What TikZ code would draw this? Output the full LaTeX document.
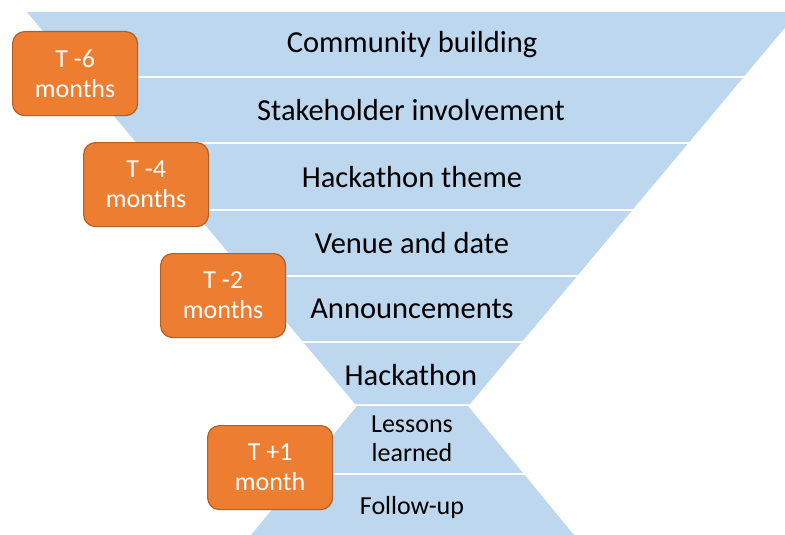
\documentclass[tikz,border=0pt]{standalone}
\usepackage{fontspec}
\setmainfont{Carlito}
\definecolor{funnelblue}{HTML}{BDD7EE}
\definecolor{boxorange}{HTML}{ED7D31}
\definecolor{boxedge}{HTML}{B25F26}
\tikzset{
  stagetext/.style={font=\fontsize{30.5}{33}\selectfont, text=black, anchor=center, inner sep=0pt},
  smalltext/.style={font=\fontsize{26}{29}\selectfont, text=black, align=center, anchor=center, inner sep=0pt},
  timebox/.style={draw=boxedge, line width=1.2pt, fill=boxorange, rounded corners=12pt,
    minimum width=125pt, minimum height=84pt, text=white, align=center,
    font=\fontsize{26}{30}\selectfont, inner sep=0pt, anchor=north west},
  sep/.style={draw=white, line width=1.6pt}
}
\begin{document}
\begin{tikzpicture}[x=1pt,y=-1pt]
\useasboundingbox (0,0) rectangle (785,535);
\begin{scope}
\clip (0,0) rectangle (785,535);
% upper funnel
\fill[funnelblue] (26.9,12) -- (798.1,12) -- (470,404) -- (355,404) -- cycle;
% lower funnel
\fill[funnelblue] (357,406) -- (468,406) -- (606,574) -- (219,574) -- cycle;
% separators
\foreach \yy in {77,143,210,276,342,474} {
  \draw[sep] (0,\yy) -- (785,\yy);
}
\end{scope}
% stage labels
\node[stagetext] (s1) at (412,45) {Community building};
\node[stagetext] (s2) at (411,110) {Stakeholder involvement};
\node[stagetext] (s3) at (412,177) {Hackathon theme};
\node[stagetext] (s4) at (412,243) {Venue and date};
\node[stagetext] (s5) at (412,309) {Announcements};
\node[stagetext] (s6) at (411,375) {Hackathon};
\node[smalltext] (s7) at (412,439) {Lessons\\learned};
\node[smalltext] (s8) at (412,508) {Follow-up};
% time boxes
\node[timebox] (b1) at (12,31) {T -6\\months};
\node[timebox] (b2) at (83,142) {T -4\\months};
\node[timebox] (b3) at (160,253) {T -2\\months};
\node[timebox] (b4) at (207,425) {T +1\\month};
\end{tikzpicture}
\end{document}
